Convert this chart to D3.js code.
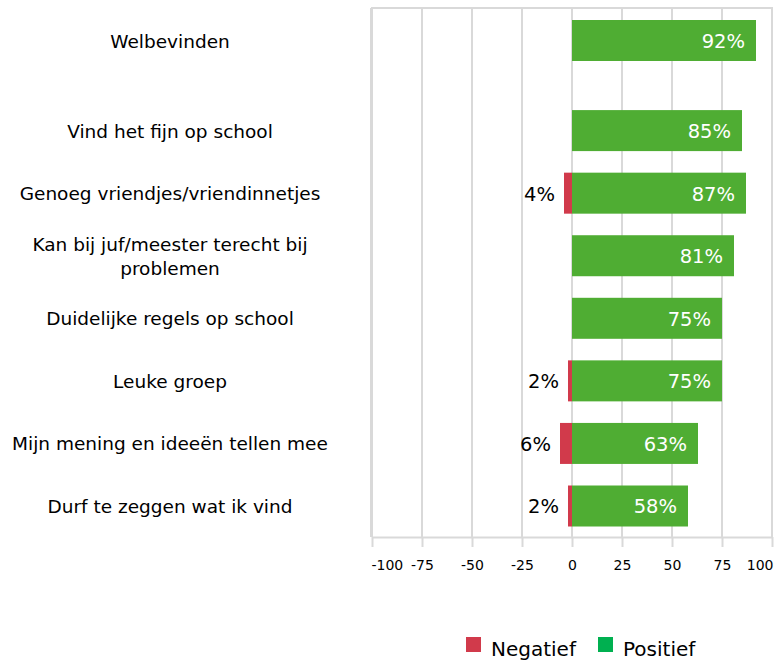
<!DOCTYPE html>
<html>
<head>
<meta charset="utf-8">
<script src="https://cdn.jsdelivr.net/npm/d3@7"></script>
<style>
  body { margin: 0; background: #fff; }
  text { font-family: "DejaVu Sans", Verdana, sans-serif; }
</style>
</head>
<body>
<svg id="chart" width="782" height="660"></svg>
<script>
// data
var categories = ["Welbevinden", "Vind het fijn op school", "Genoeg vriendjes/vriendinnetjes",
    "Kan bij juf/meester terecht bij problemen", "Duidelijke regels op school", "Leuke groep",
    "Mijn mening en ideeën tellen mee", "Durf te zeggen wat ik vind"];
var negatief = [0, 0, 4, 0, 0, 2, 6, 2];
var positief = [92, 85, 87, 81, 75, 75, 63, 58];
var xTicks = [-100, -75, -50, -25, 0, 25, 50, 75, 100];
var legendLabels = ["Negatief", "Positief"];

var svg = d3.select("#chart");
var grijs = "#d9d9d9";
var rood = "#d13a4b";
var groen = "#4fad33";

var x = d3.scaleLinear().domain([-100, 100]).range([372, 772]);
// Welbevinden staat los boven de rest
var slot = function (i) { return i == 0 ? 0 : i + 0.44; };
var y = d3.scaleLinear().domain([0, slot(categories.length - 1)]).range([40.5, 506]);
var barH = 41;
var top_ = 8, bottom = 537;

// gridlijnen
svg.append("g").selectAll("line")
    .data(xTicks)
    .enter().append("line")
    .attr("x1", function (d) { return x(d); })
    .attr("x2", function (d) { return x(d); })
    .attr("y1", top_)
    .attr("y2", bottom)
    .attr("stroke", grijs)
    .attr("stroke-width", 2);

svg.append("line")
    .attr("x1", x(-100) - 1).attr("x2", x(100) + 1)
    .attr("y1", top_).attr("y2", top_)
    .attr("stroke", grijs).attr("stroke-width", 2);
svg.append("line")
    .attr("x1", x(-100) - 1).attr("x2", x(-100) - 1)
    .attr("y1", top_).attr("y2", bottom)
    .attr("stroke", grijs).attr("stroke-width", 2);

// x-as
var as = svg.append("g")
    .attr("transform", "translate(0," + bottom + ")")
    .call(d3.axisBottom(x).tickValues(xTicks).tickSize(10).tickSizeOuter(0).tickPadding(13)
        .tickFormat(function (d) { return String(d); }));
as.select(".domain").attr("stroke", grijs).attr("stroke-width", 2);
as.selectAll(".tick line").attr("stroke", grijs).attr("stroke-width", 2);
as.selectAll(".tick text")
    .attr("font-family", "DejaVu Sans")
    .attr("font-size", "14px")
    .attr("fill", "#000")
    .attr("text-anchor", function (d, i) {
        return i == 0 ? "start" : (i == xTicks.length - 1 ? "end" : "middle");
    })
    .attr("x", function (d, i) {
        return i == 0 ? -1 : (i == xTicks.length - 1 ? 1 : 0);
    });

// balken
var rijen = categories.map(function (c, i) {
    return { cat: c, neg: negatief[i], pos: positief[i], i: i };
});

var g = svg.append("g");
g.selectAll("rect.pos")
    .data(rijen)
    .enter().append("rect")
    .attr("class", "pos")
    .attr("x", x(0))
    .attr("y", function (d) { return y(slot(d.i)) - barH / 2; })
    .attr("width", function (d) { return x(d.pos) - x(0); })
    .attr("height", barH)
    .attr("fill", groen);

g.selectAll("rect.neg")
    .data(rijen.filter(function (d) { return d.neg > 0; }))
    .enter().append("rect")
    .attr("class", "neg")
    .attr("x", function (d) { return x(-d.neg); })
    .attr("y", function (d) { return y(slot(d.i)) - barH / 2; })
    .attr("width", function (d) { return x(0) - x(-d.neg); })
    .attr("height", barH)
    .attr("fill", rood);

g.selectAll("text.pos")
    .data(rijen)
    .enter().append("text")
    .attr("class", "pos")
    .attr("x", function (d) { return x(d.pos) - 11; })
    .attr("y", function (d) { return y(slot(d.i)); })
    .attr("dy", "0.38em")
    .attr("text-anchor", "end")
    .attr("font-size", "19.5px")
    .attr("fill", "#fff")
    .text(function (d) { return d.pos + "%"; });

g.selectAll("text.neg")
    .data(rijen.filter(function (d) { return d.neg > 0; }))
    .enter().append("text")
    .attr("class", "neg")
    .attr("x", function (d) { return x(-d.neg) - 9; })
    .attr("y", function (d) { return y(slot(d.i)); })
    .attr("dy", "0.38em")
    .attr("text-anchor", "end")
    .attr("font-size", "19.5px")
    .attr("fill", "#000")
    .text(function (d) { return d.neg + "%"; });

// categorie labels, gecentreerd links
var labels = svg.append("g").selectAll("text")
    .data(rijen)
    .enter().append("text")
    .attr("x", 170)
    .attr("y", function (d) { return y(slot(d.i)); })
    .attr("text-anchor", "middle")
    .attr("font-size", "18.5px")
    .attr("fill", "#000");

labels.each(function (d) {
    var t = d3.select(this);
    var woorden = d.cat.split(" ");
    var regels = [], regel = [];
    woorden.forEach(function (w) {
        regel.push(w);
        t.text(regel.join(" "));
        if (this.getComputedTextLength() > 340 && regel.length > 1) {
            regel.pop();
            regels.push(regel.join(" "));
            regel = [w];
        }
    }, this);
    regels.push(regel.join(" "));
    t.text(null);
    var lh = 24;
    regels.forEach(function (r, k) {
        t.append("tspan")
            .attr("x", 170)
            .attr("y", y(slot(d.i)) - (regels.length - 1) * lh / 2 + k * lh)
            .attr("dy", "0.38em")
            .text(r);
    });
});

// legenda
var legKleur = [rood, "#00b050"];
var leg = svg.append("g");
var legX = [466, 598];
legendLabels.forEach(function (l, k) {
    leg.append("rect")
        .attr("x", legX[k]).attr("y", 637)
        .attr("width", 15).attr("height", 15)
        .attr("fill", legKleur[k]);
    leg.append("text")
        .attr("x", legX[k] + 25).attr("y", 656)
        .attr("font-size", "20px")
        .attr("fill", "#000")
        .text(l);
});
</script>
</body>
</html>
